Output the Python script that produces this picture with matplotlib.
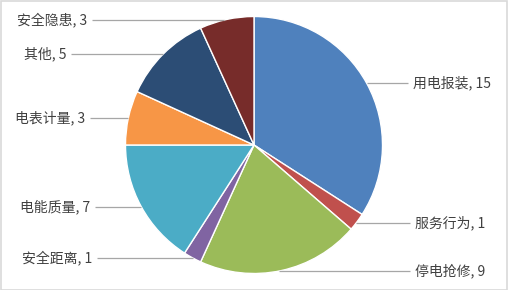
"""Pie chart of complaint categories with horizontal leader lines."""

import numpy as np
import matplotlib.pyplot as plt
from matplotlib.patches import Rectangle

plt.rcParams["font.family"] = ["Noto Sans CJK SC", "DejaVu Sans"]

categories = ["用电报装", "服务行为", "停电抢修", "安全距离", "电能质量", "电表计量", "其他", "安全隐患"]
counts = [15, 1, 9, 1, 7, 3, 5, 3]
colors = ["#4F81BD", "#C0504D", "#9BBB59", "#8064A2", "#4BACC6", "#F79646", "#2C4D75", "#772C2A"]

# label placement in pixels (figure coords, y from top): text anchor x, row y, side
label_x = [413, 415, 415, 92, 90, 85, 66, 87]
label_y = [83, 223, 271, 258, 207, 118, 54, 20]
label_side = ["right", "right", "right", "left", "left", "left", "left", "left"]

W, H = 508, 290
cx, cy, R = 254, 145, 128.5

fig = plt.figure(figsize=(W / 100, H / 100), dpi=100)
ax = fig.add_axes([0, 0, 1, 1])
ax.set_xlim(-cx / R, (W - cx) / R)
ax.set_ylim(-(H - cy) / R, cy / R)
ax.set_aspect("equal")
ax.axis("off")

ax.pie(counts, colors=colors, startangle=90, counterclock=False, radius=1.0,
       wedgeprops=dict(edgecolor="white", linewidth=1.0))
ax.set_xlim(-cx / R, (W - cx) / R)
ax.set_ylim(-(H - cy) / R, cy / R)

for name, n, px, py, side in zip(categories, counts, label_x, label_y, label_side):
    y = (cy - py) / R
    xe = np.sqrt(max(0.0, 1 - y * y))
    tx = (px - cx) / R
    if side == "right":
        x0, x1, ha = xe, tx - 5 / R, "left"
    else:
        x0, x1, ha = -xe, tx + 5 / R, "right"
    ax.plot([x0, x1], [y, y], color="#a6a6a6", linewidth=0.9, solid_capstyle="butt")
    ax.text(tx, y, f"{name}, {n}", ha=ha, va="center", fontsize=10, color="#404040")

fig.add_artist(Rectangle((0.5 / W, 0.5 / H), 1 - 1.5 / W, 1 - 1.5 / H,
                         transform=fig.transFigure, fill=False,
                         edgecolor="#d9d9d9", linewidth=1.2))

fig.savefig("out.png", dpi=100)
